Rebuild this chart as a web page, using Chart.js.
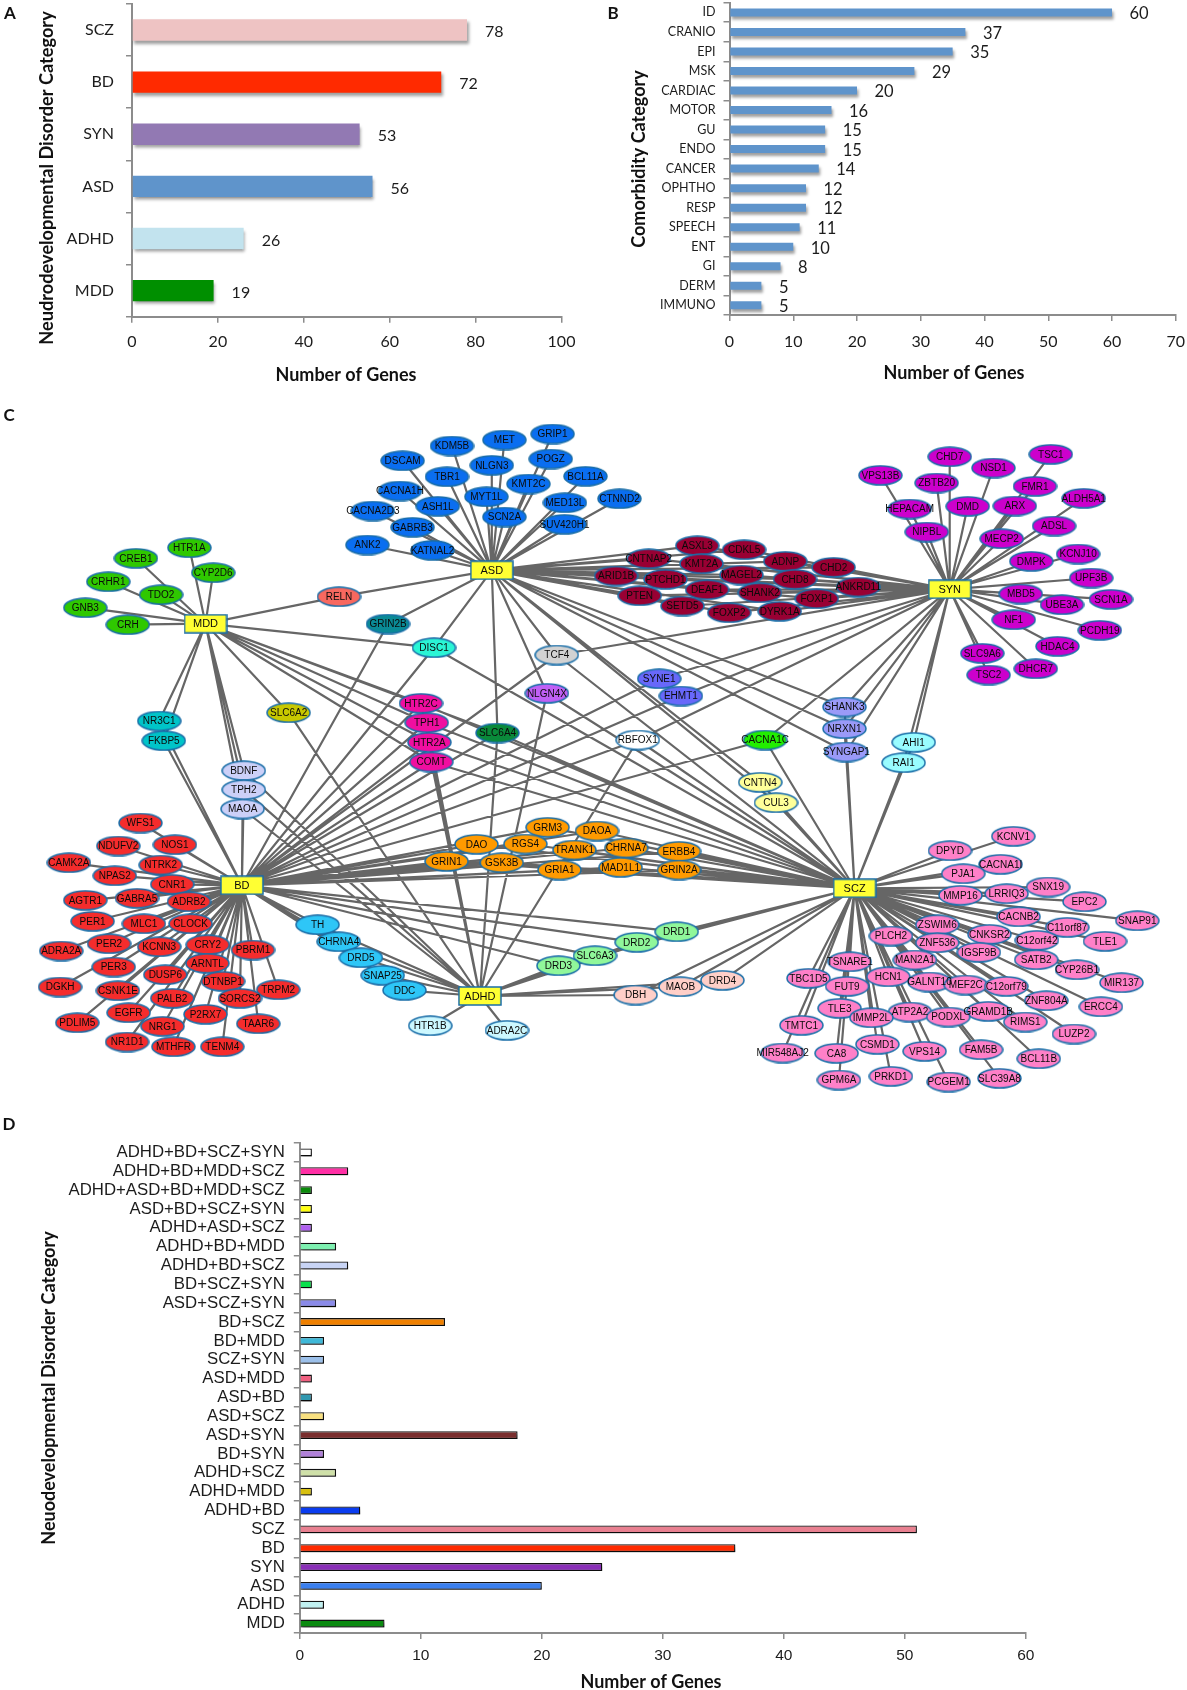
<!DOCTYPE html>
<html>
<head>
<meta charset="utf-8">
<script src="https://cdn.jsdelivr.net/npm/chart.js@4"></script>
<style>
  html, body { margin: 0; padding: 0; background: #fff; }
  #page { position: relative; width: 1187px; height: 1690px; overflow: hidden; }
  canvas { position: absolute; }
</style>
</head>
<body>
<div id="page">
  <canvas id="panel-a" width="600" height="400" style="left:0;top:0"></canvas>
  <canvas id="panel-b" width="587" height="400" style="left:600px;top:0"></canvas>
  <canvas id="panel-c" width="1187" height="710" style="left:0;top:400px"></canvas>
  <canvas id="panel-d" width="1187" height="580" style="left:0;top:1110px"></canvas>
</div>
<script>
/* panel A */
const disorderLabels = ["SCZ", "BD", "SYN", "ASD", "ADHD", "MDD"];
const disorderGenes = [78, 72, 53, 56, 26, 19];
const disorderColors = ["#eec3c3", "#ff2a00", "#9279b3", "#5f94cb", "#c2e3ee", "#008f00"];

/* panel B */
const comorbidLabels = ["ID", "CRANIO", "EPI", "MSK", "CARDIAC", "MOTOR", "GU", "ENDO", "CANCER", "OPHTHO", "RESP", "SPEECH", "ENT", "GI", "DERM", "IMMUNO"];
const comorbidGenes = [60, 37, 35, 29, 20, 16, 15, 15, 14, 12, 12, 11, 10, 8, 5, 5];

/* panel D */
const overlapLabels = ["ADHD+BD+SCZ+SYN", "ADHD+BD+MDD+SCZ", "ADHD+ASD+BD+MDD+SCZ", "ASD+BD+SCZ+SYN", "ADHD+ASD+SCZ", "ADHD+BD+MDD", "ADHD+BD+SCZ", "BD+SCZ+SYN", "ASD+SCZ+SYN", "BD+SCZ", "BD+MDD", "SCZ+SYN", "ASD+MDD", "ASD+BD", "ASD+SCZ", "ASD+SYN", "BD+SYN", "ADHD+SCZ", "ADHD+MDD", "ADHD+BD", "SCZ", "BD", "SYN", "ASD", "ADHD", "MDD"];
const overlapGenes = [1, 4, 1, 1, 1, 3, 4, 1, 3, 12, 2, 2, 1, 1, 2, 18, 2, 3, 1, 5, 51, 36, 25, 20, 2, 7];
const overlapColors = ["#ffffff", "#ff2fa5", "#0a8a0a", "#ffff10", "#b060f0", "#7df0b0", "#c8d4f5", "#0ae04c", "#8a8ae8", "#ef8000", "#3fb8d8", "#9cc0ea", "#f06080", "#3098b0", "#f8e080", "#7a2e2e", "#b080d8", "#cfe0a8", "#d8c010", "#0a3cf0", "#e88090", "#ff2a00", "#8a2fb8", "#3a80f0", "#c0f0f0", "#0a8a10"];

const hubNodes = [["ASD", 491.8, 570.3], ["MDD", 205.5, 623.7], ["SYN", 949.7, 589.3], ["BD", 241.9, 885.3], ["ADHD", 479.9, 996], ["SCZ", 854.6, 888.3]];
const asdGenes = [["GRIP1",552.6,434],["MET",504.4,440],["KDM5B",452,446],["NLGN3",491.8,465.3],["POGZ",550.7,459],["DSCAM",402.6,460.7],["TBR1",447,476.7],["KMT2C",528.5,484],["BCL11A",585.5,476.3],["CACNA1H",400,491],["MYT1L",486.4,496.7],["ASH1L",437.8,506.3],["MED13L",564.9,502.7],["CTNND2",619.5,498.7],["CACNA2D3",372.8,511],["SCN2A",504.4,517],["GABRB3",412.6,527.3],["SUV420H1",564.5,524.3],["ANK2",367.4,545],["KATNAL2",432.5,550.3]];
const mddGenes = [["HTR1A",189.4,547.7],["CREB1",135.9,558.3],["CYP2D6",213.2,572.7],["CRHR1",108.3,581.7],["TDO2",161.1,594.7],["GNB3",85.3,607.7],["CRH",127.8,624.7]];
const bdGenes = [["WFS1",140.5,823],["NOS1",174.9,844.7],["NDUFV2",118.3,846],["CAMK2A",68.9,862.7],["NTRK2",160.7,865],["NPAS2",114.8,875.7],["CNR1",172.2,884.3],["GABRA5",137,898.3],["AGTR1",85.3,900.3],["ADRB2",189,901.7],["PER1",92.6,921.3],["MLC1",143.9,923.7],["CLOCK",190.6,923.7],["PER2",109.1,943.7],["CRY2",207.8,944.7],["KCNN3",159.2,946.7],["PBRM1",253,950],["ADRA2A",61.2,951],["ARNTL",207.4,963.3],["PER3",113.7,967],["DUSP6",165.3,974.7],["DTNBP1",223.1,981.3],["DGKH",60.1,987],["TRPM2",278.2,989.7],["CSNK1E",117.9,990.7],["PALB2",172.2,998.3],["SORCS2",240,998.3],["EGFR",128.6,1012.7],["P2RX7",205.5,1014.3],["PDLIM5",77.3,1022.7],["TAAR6",258.3,1023.7],["NRG1",162.6,1026.3],["NR1D1",127.1,1042],["MTHFR",173.4,1046.7],["TENM4",222.3,1046.7]];
const synGenes = [["TSC1",1050.8,454.3],["CHD7",949.7,456.7],["NSD1",993.5,468],["VPS13B",880.4,475.3],["ZBTB20",936.6,483],["FMR1",1035,486.3],["ALDH5A1",1083.7,498.3],["DMD",967.7,506.3],["ARX",1014.8,506],["HEPACAM",909.6,509],["ADSL",1054.1,526],["NIPBL",926.8,532],["MECP2",1001.7,538.7],["KCNJ10",1078.1,554],["DMPK",1031.3,561.3],["UPF3B",1091.2,578],["MBD5",1020.8,594],["SCN1A",1111,599.3],["UBE3A",1062,604.7],["NF1",1013.7,619.7],["PCDH19",1099.8,630.3],["HDAC4",1057.5,646.3],["SLC9A6",982.3,653.3],["DHCR7",1035.8,668.7],["TSC2",988.6,675]];
const sczGenes = [["KCNV1",1013.3,836.3],["DPYD",950,850.7],["CACNA1I",1000.6,864.3],["PJA1",963.2,873.7],["SNX19",1048.1,887],["LRRIQ3",1006.6,893.7],["MMP16",960.5,895.3],["EPC2",1084.5,901.7],["CACNB2",1018.6,916.7],["SNAP91",1137.3,920.7],["C11orf87",1067.2,927.3],["ZSWIM6",937.3,924.7],["CNKSR2",989.4,934.3],["PLCH2",890.9,936],["C12orf42",1036.9,940.3],["ZNF536",937.3,942.7],["TLE1",1105,941.3],["IGSF9B",978.9,952.3],["SATB2",1036.2,959.7],["MAN2A1",914.9,960],["TSNARE1",849.7,961.7],["CYP26B1",1077,969.7],["TBC1D5",808.5,978.3],["HCN1",888.3,976.7],["GALNT10",929.5,982],["FUT9",847.1,986.3],["MEF2C",965.8,985],["C12orf79",1006.2,986.3],["MIR137",1121.5,982.7],["ZNF804A",1046.3,1000.7],["ERCC4",1100.9,1006.7],["TLE3",839.6,1008.3],["ATP2A2",910,1012],["GRAMD1B",988.2,1011.3],["IMMP2L",871.4,1017.7],["PODXL",948.2,1017],["RIMS1",1025.3,1022],["TMTC1",801.4,1025.3],["LUZP2",1074,1034],["CSMD1",877.4,1044.3],["FAM5B",981.1,1049.7],["VPS14",924.6,1051.3],["CA8",836.6,1053.3],["MIR548AJ2",782.7,1053],["BCL11B",1038.8,1058.7],["PRKD1",890.9,1076.3],["GPM6A",838.9,1080],["SLC39A8",999.5,1078.3],["PCGEM1",948.6,1082]];
const adhdGenes = [["HTR1B",430.2,1025.7],["ADRA2C",507,1030.3]];
const asdSynGenes = [["ASXL3",697.3,545.7],["CDKL5",744.1,549.7],["CNTNAP2",648.7,558.7],["KMT2A",701.5,563.7],["ADNP",785.3,561.3],["CHD2",833.6,567.3],["MAGEL2",741.5,575],["ARID1B",616.1,576],["PTCHD1",665.5,579.3],["CHD8",795,579.3],["ANKRD11",858.3,587],["DEAF1",707.1,589.7],["SHANK2",759.9,592.7],["FOXP1",816.8,598.7],["PTEN",639.7,595.7],["SETD5",682.4,606],["FOXP2",729.2,612.7],["DYRK1A",779.7,611.3]];
const adhdBdGenes = [["TH",317.6,924.7],["CHRNA4",338.7,941.7],["DRD5",360.9,957.7],["SNAP25",382.7,975.3],["DDC",404.5,990.3]];
const bdSczGenes = [["GRM3",547.6,827.3],["DAOA",597,831],["DAO",476.5,844.3],["RGS4",525.4,844],["TRANK1",574.4,850],["GRIN1",446.6,861.3],["GSK3B",501.7,862.7],["GRIA1",559.5,870],["CHRNA7",626.2,848],["ERBB4",679,851.3],["MAD1L1",620.6,867.3],["GRIN2A",679,870]];
const adhdBdMddGenes = [["BDNF",243.8,770.7],["TPH2",243.8,789.7],["MAOA",242.6,809]];
const bdMddGenes = [["NR3C1",159.2,721],["FKBP5",163.8,740.7]];
const adhdBdSczGenes = [["DRD1",676.7,931.7],["DRD2",636.7,942.3],["SLC6A3",595,955.7],["DRD3",558.4,965.7]];
const adhdSczGenes = [["DBH",635.6,995],["MAOB",680.5,986.7],["DRD4",722.4,980.3]];
const adhdBdMddSczGenes = [["HTR2C",421,703.3],["TPH1",426.7,722.7],["HTR2A",429.4,742.3],["COMT",431.3,762]];
const asdSczSynGenes = [["SHANK3",844.5,707],["NRXN1",844.5,728.7],["SYNGAP1",846.3,752]];
const sczSynGenes = [["AHI1",913.7,742.3],["RAI1",903.6,762.7]];
const asdSczGenes = [["CNTN4",760.2,782.3],["CUL3",776,802.7]];
const bdSynGenes = [["SYNE1",659.2,678.7],["EHMT1",680.9,696]];

/* one row per set: genes, the disorders they link to, fill */
const geneSets = [
  [asdSynGenes, ["ASD", "SYN"], "#990033"],
  [asdGenes, ["ASD"], "#0a6ef0"],
  [mddGenes, ["MDD"], "#2fc800"],
  [bdGenes, ["BD"], "#f52c2c"],
  [synGenes, ["SYN"], "#cc00cc"],
  [sczGenes, ["SCZ"], "#ff80c8"],
  [adhdGenes, ["ADHD"], "#ccf8ff"],
  [adhdBdGenes, ["ADHD", "BD"], "#2ec6f7"],
  [bdSczGenes, ["BD", "SCZ"], "#ff9a00"],
  [adhdBdMddGenes, ["ADHD", "BD", "MDD"], "#ccd0f8"],
  [bdMddGenes, ["BD", "MDD"], "#00c4c8"],
  [adhdBdSczGenes, ["ADHD", "BD", "SCZ"], "#90f79a"],
  [adhdSczGenes, ["ADHD", "SCZ"], "#ffcfc8"],
  [adhdBdMddSczGenes, ["ADHD", "BD", "MDD", "SCZ"], "#f00ea0"],
  [asdSczSynGenes, ["ASD", "SCZ", "SYN"], "#9a9af8"],
  [sczSynGenes, ["SCZ", "SYN"], "#99fcff"],
  [asdSczGenes, ["ASD", "SCZ"], "#ffff99"],
  [bdSynGenes, ["BD", "SYN"], "#6868fa"],
  [[["RELN",339,596.7]], ["ASD", "MDD"], "#f8685f"],
  [[["GRIN2B",388,624]], ["ASD", "BD"], "#0a8a96"],
  [[["DISC1",434,647.7]], ["ASD", "MDD", "BD", "SCZ"], "#2af5d5"],
  [[["TCF4",556.8,655]], ["ASD", "BD", "SCZ", "SYN"], "#d2d2d2"],
  [[["NLGN4X",546.9,693.3]], ["ASD", "ADHD", "SCZ"], "#c060f5"],
  [[["SLC6A2",288.6,712.7]], ["ADHD", "MDD"], "#c8c800"],
  [[["SLC6A4",497.5,733]], ["ADHD", "ASD", "BD", "MDD", "SCZ"], "#0a8a3a"],
  [[["RBFOX1",637.8,740]], ["ADHD", "BD", "SCZ", "SYN"], "#ffffff"],
  [[["CACNA1C",765.1,740]], ["BD", "SCZ", "SYN"], "#22ee00"]
];

const ink = "#1c1c1c";
const axisGrey = "#8c8c8c";
const calibriLike = "Lato";
const arialLike = "'Liberation Sans'";

/* soft drop shadow under the bars */
const barShadow = {
  id: 'barShadow',
  beforeDatasetDraw(chart) {
    chart.ctx.save();
    chart.ctx.shadowColor = 'rgba(0,0,0,0.38)';
    chart.ctx.shadowBlur = 3;
    chart.ctx.shadowOffsetX = 1.5;
    chart.ctx.shadowOffsetY = 3;
  },
  afterDatasetDraw(chart) {
    chart.ctx.restore();
  }
};

/* free text: panel letters and axis titles */
function notesPlugin(notes) {
  return {
    id: 'notes',
    afterDraw(chart) {
      let ctx = chart.ctx;
      notes.forEach(function(n) {
        ctx.save();
        ctx.translate(n.x, n.y);
        if (n.rot) ctx.rotate(n.rot);
        ctx.font = n.font;
        ctx.fillStyle = '#111';
        ctx.textAlign = 'center';
        ctx.textBaseline = 'middle';
        ctx.fillText(n.text, 0, 0);
        ctx.restore();
      });
    }
  };
}

/* numbers at the end of the bars */
function valuePlugin(values, font, gap, drop) {
  return {
    id: 'values',
    afterDatasetsDraw(chart) {
      let ctx = chart.ctx;
      ctx.save();
      ctx.font = font;
      ctx.fillStyle = ink;
      ctx.textAlign = 'left';
      ctx.textBaseline = 'middle';
      chart.getDatasetMeta(0).data.forEach(function(bar, i) {
        ctx.fillText(values[i], bar.x + gap, bar.y + drop);
      });
      ctx.restore();
    }
  };
}

function barChart(id, labels, values, colors, cfg) {
  return new Chart(document.getElementById(id), {
    type: 'bar',
    data: {
      labels: labels,
      datasets: [{
        data: values,
        backgroundColor: colors,
        borderColor: cfg.edge || 'transparent',
        borderWidth: cfg.edge ? 1.3 : 0,
        categoryPercentage: 1,
        barPercentage: cfg.barShare
      }]
    },
    options: {
      indexAxis: 'y',
      responsive: false,
      animation: false,
      layout: { autoPadding: false, padding: { top: cfg.top, right: cfg.right, left: 0, bottom: 0 } },
      plugins: { legend: { display: false }, tooltip: { enabled: false } },
      scales: {
        x: {
          min: 0,
          max: cfg.max,
          ticks: { stepSize: cfg.step, color: ink, font: cfg.xFont, padding: cfg.xPad, maxRotation: 0 },
          grid: { drawOnChartArea: false, color: axisGrey, lineWidth: 1.5, tickLength: 6 },
          border: { color: axisGrey, width: 2 },
          afterFit: function(s) { s.height = cfg.xHeight; s.paddingLeft = 0; s.paddingRight = 0; }
        },
        y: {
          ticks: { color: ink, font: cfg.yFont, padding: cfg.yPad, autoSkip: false },
          grid: { drawOnChartArea: false, color: axisGrey, lineWidth: 1.5, tickLength: 6 },
          border: { color: axisGrey, width: 2 },
          afterFit: function(s) { s.width = cfg.yWidth; s.paddingTop = 0; s.paddingBottom = 0; }
        }
      }
    },
    plugins: [barShadow].concat(cfg.plugins)
  });
}

barChart('panel-a', disorderLabels, disorderGenes, disorderColors, {
  top: 4, right: 38.5, yWidth: 132, xHeight: 83.3, max: 100, step: 20, barShare: 0.41, yPad: 12, xPad: 10,
  xFont: { family: calibriLike, size: 16 }, yFont: { family: calibriLike, size: 16 },
  plugins: [
    valuePlugin(disorderGenes, "16px " + calibriLike, 18, 2),
    notesPlugin([
      { text: "A", x: 10, y: 14, font: "bold 17px " + calibriLike },
      { text: "Number of Genes", x: 346, y: 375, font: "bold 18px " + calibriLike },
      { text: "Neudrodevelopmental Disorder Category", x: 47, y: 178, rot: -Math.PI / 2, font: "bold 18.2px " + calibriLike }
    ])
  ]
});

barChart('panel-b', comorbidLabels, comorbidGenes, "#5f94cb", {
  top: 2.7, right: 11.2, yWidth: 129.5, xHeight: 85, max: 70, step: 10, barShare: 0.41, yPad: 8, xPad: 11,
  xFont: { family: calibriLike, size: 16 }, yFont: { family: calibriLike, size: 12.5 },
  plugins: [
    valuePlugin(comorbidGenes, "16.5px " + calibriLike, 17.5, 1.5),
    notesPlugin([
      { text: "B", x: 13, y: 14, font: "bold 17px " + calibriLike },
      { text: "Number of Genes", x: 354, y: 373, font: "bold 18px " + calibriLike },
      { text: "Comorbidity Category", x: 39, y: 159, rot: -Math.PI / 2, font: "bold 18px " + calibriLike }
    ])
  ]
});

barChart('panel-d', overlapLabels, overlapGenes, overlapColors, {
  top: 33, right: 161.2, yWidth: 299.8, xHeight: 57, max: 60, step: 10, barShare: 0.42, yPad: 9, xPad: 7, edge: '#111',
  xFont: { family: arialLike, size: 15.5 }, yFont: { family: arialLike, size: 16.8 },
  plugins: [
    notesPlugin([
      { text: "D", x: 9, y: 15, font: "bold 17px " + calibriLike },
      { text: "Number of Genes", x: 651, y: 572, font: "bold 18px " + calibriLike },
      { text: "Neuodevelopmental Disorder Category", x: 49, y: 278, rot: -Math.PI / 2, font: "bold 18px " + calibriLike }
    ])
  ]
});

/* panel C: scatter on a page-sized scale, ellipses as custom point styles */
function nodeSprite(fill, hub) {
  let w = hub ? 44 : 45, h = hub ? 20 : 21;
  let sprite = document.createElement('canvas');
  sprite.width = w;
  sprite.height = h;
  let ctx = sprite.getContext('2d');
  ctx.fillStyle = fill;
  ctx.strokeStyle = '#1a6ea8';
  ctx.lineWidth = 1.5;
  if (hub) {
    ctx.fillRect(1, 1, w - 2, h - 2);
    ctx.strokeRect(1, 1, w - 2, h - 2);
  } else {
    ctx.beginPath();
    ctx.ellipse(w / 2, h / 2, w / 2 - 1, h / 2 - 1, 0, 0, Math.PI * 2);
    ctx.fill();
    ctx.stroke();
  }
  return sprite;
}

function toPoint(node) {
  return { x: node[1], y: node[2], name: node[0] };
}

let edgePoints = [];
geneSets.forEach(function(set) {
  set[0].forEach(function(gene) {
    set[1].forEach(function(hubName) {
      let hub = hubNodes.find(h => h[0] === hubName);
      edgePoints.push({ x: hub[1], y: hub[2] }, { x: gene[1], y: gene[2] }, { x: null, y: null });
    });
  });
});

let networkSets = [{
  data: hubNodes.map(toPoint),
  pointStyle: nodeSprite('#ffff33', true),
  pointRadius: 10,
  order: 0
}];
geneSets.slice().reverse().forEach(function(set, i) {
  networkSets.push({
    data: set[0].map(toPoint),
    pointStyle: nodeSprite(set[2], false),
    pointRadius: 10,
    order: i + 1
  });
});
networkSets.push({
  data: edgePoints,
  showLine: true,
  spanGaps: false,
  borderColor: '#666666',
  borderWidth: 2.2,
  pointRadius: 0,
  order: 99
});

const nodeLabels = {
  id: 'nodeLabels',
  afterDatasetsDraw(chart) {
    let ctx = chart.ctx;
    ctx.save();
    ctx.fillStyle = '#0a0a0a';
    ctx.textAlign = 'center';
    ctx.textBaseline = 'middle';
    chart.data.datasets.forEach(function(ds, d) {
      if (ds.showLine) return;
      ctx.font = (d === 0 ? "11px " : "10px ") + arialLike;
      chart.getDatasetMeta(d).data.forEach(function(pt, i) {
        ctx.fillText(ds.data[i].name, pt.x, pt.y + 0.5);
      });
    });
    ctx.restore();
  }
};

new Chart(document.getElementById('panel-c'), {
  type: 'scatter',
  data: { datasets: networkSets },
  options: {
    responsive: false,
    animation: false,
    layout: { autoPadding: false, padding: 0 },
    plugins: { legend: { display: false }, tooltip: { enabled: false } },
    scales: {
      x: { type: 'linear', min: 0, max: 1187, display: false },
      y: { type: 'linear', min: 400, max: 1110, reverse: true, display: false }
    }
  },
  plugins: [nodeLabels, notesPlugin([{ text: "C", x: 9, y: 16, font: "bold 17px " + calibriLike }])]
});
</script>
</body>
</html>
